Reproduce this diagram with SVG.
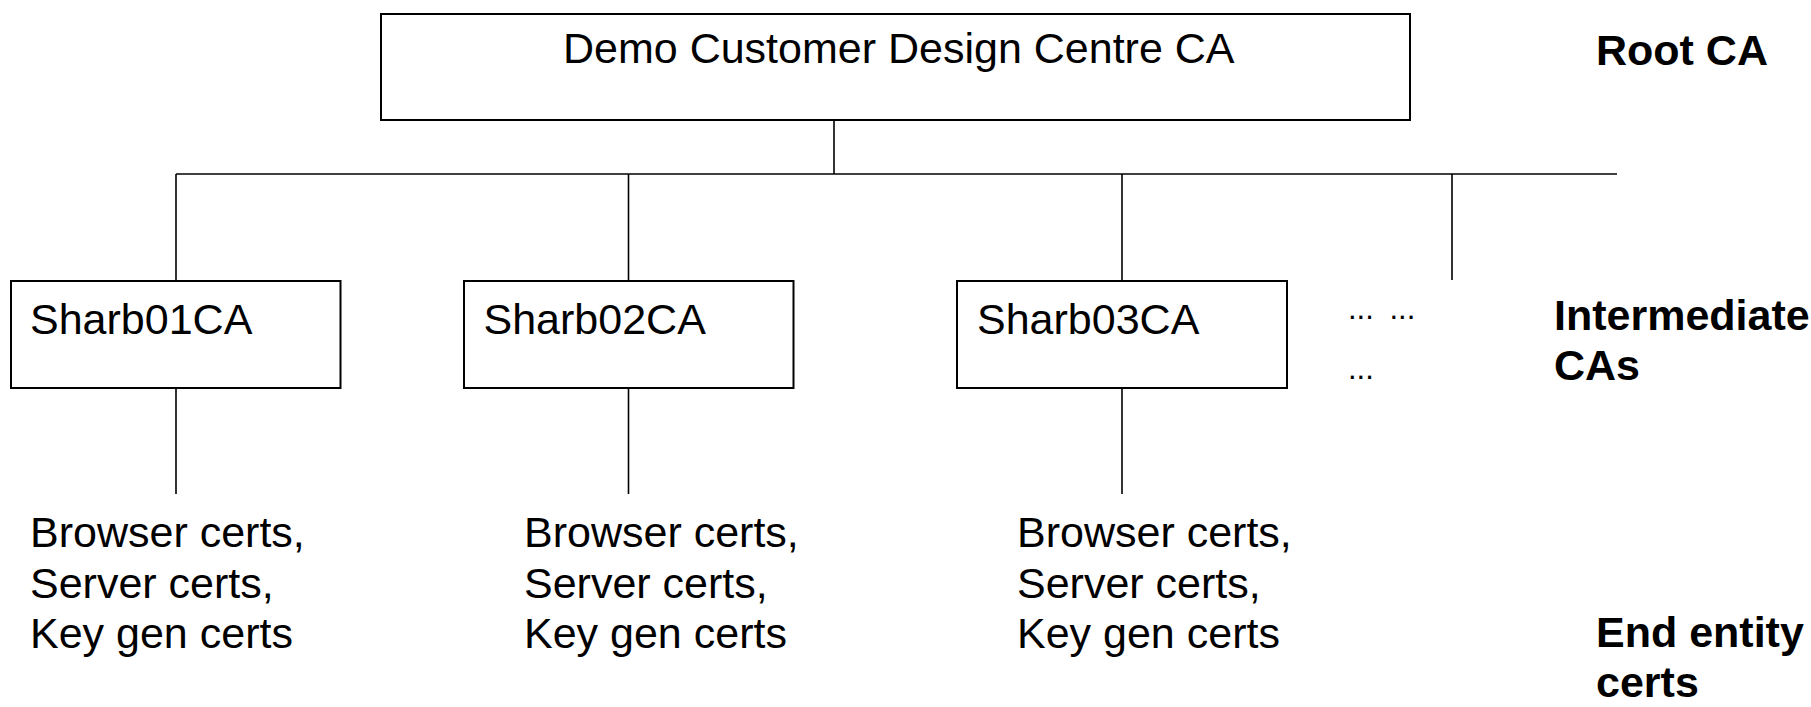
<svg xmlns="http://www.w3.org/2000/svg" width="1811" height="707" viewBox="0 0 1811 707">
  <style>
    .box { fill: #ffffff; stroke: #000000; stroke-width: 2; }
    .wire { stroke: #000000; stroke-width: 1.6; fill: none; }
    .label { font-family: "Liberation Sans", Arial, sans-serif; font-size: 43px; fill: #000000; }
    .tier { font-family: "Liberation Sans", Arial, sans-serif; font-size: 43px; font-weight: bold; fill: #000000; }
    .dots { font-family: "Liberation Sans", Arial, sans-serif; font-size: 31px; fill: #000000; }
  </style>
  <rect width="1811" height="707" fill="#ffffff"/>

  <!-- tree connectors -->
  <g id="connectors" class="wire">
    <line x1="834" y1="120" x2="834" y2="174"/>
    <line x1="176" y1="174" x2="1617" y2="174"/>
    <line x1="176" y1="174" x2="176" y2="281"/>
    <line x1="628.5" y1="174" x2="628.5" y2="281"/>
    <line x1="1122" y1="174" x2="1122" y2="281"/>
    <line x1="1452" y1="174" x2="1452" y2="280"/>
    <line x1="176" y1="388" x2="176" y2="494"/>
    <line x1="628.5" y1="388" x2="628.5" y2="494"/>
    <line x1="1122" y1="388" x2="1122" y2="494"/>
  </g>

  <!-- root certificate authority -->
  <g id="root-ca">
    <rect class="box" x="381" y="14" width="1029" height="106"/>
    <text class="label" x="563" y="63">Demo Customer Design Centre CA</text>
  </g>

  <!-- intermediate certificate authorities -->
  <g id="sharb01ca">
    <rect class="box" x="11" y="281" width="329.5" height="107"/>
    <text class="label" x="30" y="334">Sharb01CA</text>
  </g>
  <g id="sharb02ca">
    <rect class="box" x="464" y="281" width="329.5" height="107"/>
    <text class="label" x="483.5" y="334">Sharb02CA</text>
  </g>
  <g id="sharb03ca">
    <rect class="box" x="957" y="281" width="330" height="107"/>
    <text class="label" x="977" y="334">Sharb03CA</text>
  </g>
  <g id="more-intermediates">
    <text class="dots" x="1348" y="319" word-spacing="7">... ...</text>
    <text class="dots" x="1348" y="379">...</text>
  </g>

  <!-- end entity certificates -->
  <g id="certs-01">
    <text class="label" x="30" y="547">Browser certs,</text>
    <text class="label" x="30" y="597.5">Server certs,</text>
    <text class="label" x="30" y="648">Key gen certs</text>
  </g>
  <g id="certs-02">
    <text class="label" x="524" y="547">Browser certs,</text>
    <text class="label" x="524" y="597.5">Server certs,</text>
    <text class="label" x="524" y="648">Key gen certs</text>
  </g>
  <g id="certs-03">
    <text class="label" x="1017" y="547">Browser certs,</text>
    <text class="label" x="1017" y="597.5">Server certs,</text>
    <text class="label" x="1017" y="648">Key gen certs</text>
  </g>

  <!-- hierarchy level captions -->
  <g id="tier-labels">
    <text class="tier" x="1596" y="65">Root CA</text>
    <text class="tier" x="1554" y="330">Intermediate</text>
    <text class="tier" x="1554" y="380">CAs</text>
    <text class="tier" x="1596" y="647">End entity</text>
    <text class="tier" x="1596" y="697">certs</text>
  </g>
</svg>
